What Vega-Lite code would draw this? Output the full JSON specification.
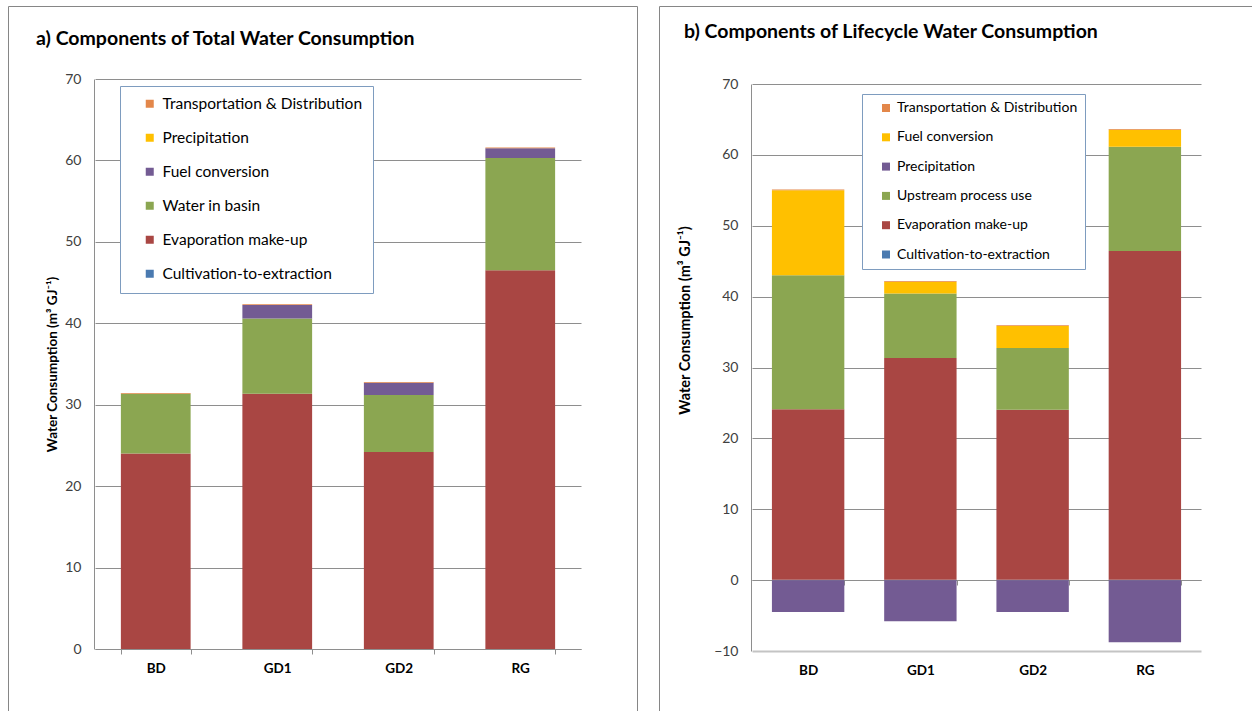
{
  "$schema": "https://vega.github.io/schema/vega-lite/v6.json",
  "padding": {"left": 7, "top": 5, "right": 0, "bottom": 0},
  "spacing": 20,
  "config": {
    "font": "Lato",
    "view": {"stroke": "#868686", "strokeWidth": 1},
    "bar": {"stroke": null}
  },
  "resolve": {"scale": {"color": "independent", "x": "independent", "y": "independent"}, "legend": {"color": "independent"}},
  "hconcat": [
    {
      "width": 629,
      "height": 710,
      "title": {"text": "a) Components of Total Water Consumption", "anchor": "start", "frame": "group", "offset": -58, "dx": 28, "fontSize": 19.5, "font": "Lato", "fontWeight": "bold", "baseline": "alphabetic", "color": "#000000"},
      "data": {"values": [
        {"cat": "BD", "comp": "Cultivation-to-extraction", "o": 1, "v": 0},
        {"cat": "BD", "comp": "Evaporation make-up", "o": 2, "v": 24.0},
        {"cat": "BD", "comp": "Water in basin", "o": 3, "v": 7.35},
        {"cat": "BD", "comp": "Fuel conversion", "o": 4, "v": 0},
        {"cat": "BD", "comp": "Precipitation", "o": 5, "v": 0},
        {"cat": "BD", "comp": "Transportation & Distribution", "o": 6, "v": 0.1},
        {"cat": "GD1", "comp": "Cultivation-to-extraction", "o": 1, "v": 0},
        {"cat": "GD1", "comp": "Evaporation make-up", "o": 2, "v": 31.35},
        {"cat": "GD1", "comp": "Water in basin", "o": 3, "v": 9.25},
        {"cat": "GD1", "comp": "Fuel conversion", "o": 4, "v": 1.65},
        {"cat": "GD1", "comp": "Precipitation", "o": 5, "v": 0},
        {"cat": "GD1", "comp": "Transportation & Distribution", "o": 6, "v": 0.1},
        {"cat": "GD2", "comp": "Cultivation-to-extraction", "o": 1, "v": 0},
        {"cat": "GD2", "comp": "Evaporation make-up", "o": 2, "v": 24.2},
        {"cat": "GD2", "comp": "Water in basin", "o": 3, "v": 7.0},
        {"cat": "GD2", "comp": "Fuel conversion", "o": 4, "v": 1.5},
        {"cat": "GD2", "comp": "Precipitation", "o": 5, "v": 0},
        {"cat": "GD2", "comp": "Transportation & Distribution", "o": 6, "v": 0.1},
        {"cat": "RG", "comp": "Cultivation-to-extraction", "o": 1, "v": 0},
        {"cat": "RG", "comp": "Evaporation make-up", "o": 2, "v": 46.5},
        {"cat": "RG", "comp": "Water in basin", "o": 3, "v": 13.8},
        {"cat": "RG", "comp": "Fuel conversion", "o": 4, "v": 1.2},
        {"cat": "RG", "comp": "Precipitation", "o": 5, "v": 0},
        {"cat": "RG", "comp": "Transportation & Distribution", "o": 6, "v": 0.1}
      ]},
      "mark": {"type": "bar"},
      "encoding": {
        "x": {
          "field": "cat", "type": "nominal", "sort": ["BD", "GD1", "GD2", "RG"],
          "scale": {"range": [87, 573], "paddingInner": 0.426, "paddingOuter": 0.213},
          "axis": {"title": null, "orient": "bottom", "offset": -67, "labelAngle": 0, "labelFontSize": 13.5, "labelFontWeight": "bold", "labelColor": "#000000", "labelPadding": 7, "tickBand": "extent", "tickSize": 5, "tickColor": "#8e8e8e", "domainColor": "#8e8e8e", "grid": false}
        },
        "y": {
          "field": "v", "type": "quantitative", "stack": "zero",
          "scale": {"domain": [0, 70], "range": [643, 73], "nice": false},
          "axis": {"title": "Water Consumption (m³ GJ⁻¹)", "titleFontSize": 13.5, "titleFontWeight": "bold", "titleColor": "#000000", "titlePadding": 5, "offset": -86, "values": [0, 10, 20, 30, 40, 50, 60, 70], "ticks": false, "labelPadding": 13, "labelFontSize": 14, "labelColor": "#404040", "domainColor": "#8e8e8e", "grid": true, "gridColor": "#8e8e8e"}
        },
        "color": {
          "field": "comp", "type": "nominal",
          "scale": {
            "domain": ["Transportation & Distribution", "Precipitation", "Fuel conversion", "Water in basin", "Evaporation make-up", "Cultivation-to-extraction"],
            "range": ["#E3874A", "#FFC000", "#735B93", "#8BA651", "#A94643", "#4A7AB0"]
          },
          "legend": {"title": null, "orient": "none", "legendX": 112, "legendY": 80, "strokeColor": "#7E9CBF", "fillColor": "#ffffff", "padding": 10, "symbolOffset": 12, "rowPadding": 17, "symbolType": "square", "symbolSize": 64, "symbolStrokeWidth": 0, "labelFontSize": 15.5, "labelColor": "#000000", "labelOffset": 5, "labelLimit": 400}
        },
        "order": {"field": "o", "type": "quantitative"}
      }
    },
    {
      "width": 594,
      "height": 710,
      "title": {"text": "b) Components of Lifecycle Water Consumption", "anchor": "start", "frame": "group", "offset": -51, "dx": 25, "fontSize": 19.5, "font": "Lato", "fontWeight": "bold", "baseline": "alphabetic", "color": "#000000"},
      "data": {"values": [
        {"cat": "BD", "comp": "Cultivation-to-extraction", "o": 1, "v": 0.05},
        {"cat": "BD", "comp": "Evaporation make-up", "o": 2, "v": 24.05},
        {"cat": "BD", "comp": "Upstream process use", "o": 3, "v": 18.9},
        {"cat": "BD", "comp": "Precipitation", "o": 4, "v": -4.5},
        {"cat": "BD", "comp": "Fuel conversion", "o": 5, "v": 12.0},
        {"cat": "BD", "comp": "Transportation & Distribution", "o": 6, "v": 0.1},
        {"cat": "GD1", "comp": "Cultivation-to-extraction", "o": 1, "v": 0.05},
        {"cat": "GD1", "comp": "Evaporation make-up", "o": 2, "v": 31.3},
        {"cat": "GD1", "comp": "Upstream process use", "o": 3, "v": 9.1},
        {"cat": "GD1", "comp": "Precipitation", "o": 4, "v": -5.8},
        {"cat": "GD1", "comp": "Fuel conversion", "o": 5, "v": 1.65},
        {"cat": "GD1", "comp": "Transportation & Distribution", "o": 6, "v": 0.1},
        {"cat": "GD2", "comp": "Cultivation-to-extraction", "o": 1, "v": 0.05},
        {"cat": "GD2", "comp": "Evaporation make-up", "o": 2, "v": 24.0},
        {"cat": "GD2", "comp": "Upstream process use", "o": 3, "v": 8.7},
        {"cat": "GD2", "comp": "Precipitation", "o": 4, "v": -4.5},
        {"cat": "GD2", "comp": "Fuel conversion", "o": 5, "v": 3.1},
        {"cat": "GD2", "comp": "Transportation & Distribution", "o": 6, "v": 0.1},
        {"cat": "RG", "comp": "Cultivation-to-extraction", "o": 1, "v": 0.05},
        {"cat": "RG", "comp": "Evaporation make-up", "o": 2, "v": 46.4},
        {"cat": "RG", "comp": "Upstream process use", "o": 3, "v": 14.7},
        {"cat": "RG", "comp": "Precipitation", "o": 4, "v": -8.75},
        {"cat": "RG", "comp": "Fuel conversion", "o": 5, "v": 2.4},
        {"cat": "RG", "comp": "Transportation & Distribution", "o": 6, "v": 0.1}
      ]},
      "mark": {"type": "bar"},
      "encoding": {
        "x": {
          "field": "cat", "type": "nominal", "sort": ["BD", "GD1", "GD2", "RG"],
          "scale": {"range": [93, 542], "paddingInner": 0.355, "paddingOuter": 0.1775},
          "axis": {"title": null, "orient": "bottom", "offset": -136, "labelAngle": 0, "labelFontSize": 13.5, "labelFontWeight": "bold", "labelColor": "#000000", "labelPadding": 78, "tickBand": "extent", "tickSize": 5, "tickColor": "#8e8e8e", "domainColor": "#8e8e8e", "grid": false}
        },
        "y": {
          "field": "v", "type": "quantitative", "stack": "zero",
          "scale": {"domain": [-10, 70], "range": [645, 78], "nice": false},
          "axis": {"title": "Water Consumption (m³ GJ⁻¹)", "titleFontSize": 14.5, "titleFontWeight": "bold", "titleColor": "#000000", "titlePadding": 21, "titleY": 314, "offset": -92, "values": [-10, 0, 10, 20, 30, 40, 50, 60, 70], "ticks": false, "labelPadding": 13, "labelFontSize": 14, "labelColor": "#404040", "domainColor": "#8e8e8e", "grid": true,
            "gridColor": {"condition": {"test": "datum.value === -10", "value": "#c4c4c4"}, "value": "#8e8e8e"},
            "gridWidth": {"condition": {"test": "datum.value === -10", "value": 2}, "value": 1}}
        },
        "color": {
          "field": "comp", "type": "nominal",
          "scale": {
            "domain": ["Transportation & Distribution", "Fuel conversion", "Precipitation", "Upstream process use", "Evaporation make-up", "Cultivation-to-extraction"],
            "range": ["#E3874A", "#FFC000", "#735B93", "#8BA651", "#A94643", "#4A7AB0"]
          },
          "legend": {"title": null, "orient": "none", "legendX": 203, "legendY": 88, "strokeColor": "#7E9CBF", "fillColor": "#ffffff", "padding": 7, "symbolOffset": 10, "rowPadding": 15.3, "symbolType": "square", "symbolSize": 64, "symbolStrokeWidth": 0, "labelFontSize": 14, "labelColor": "#000000", "labelOffset": 4, "labelLimit": 400}
        },
        "order": {"field": "o", "type": "quantitative"}
      }
    }
  ]
}
